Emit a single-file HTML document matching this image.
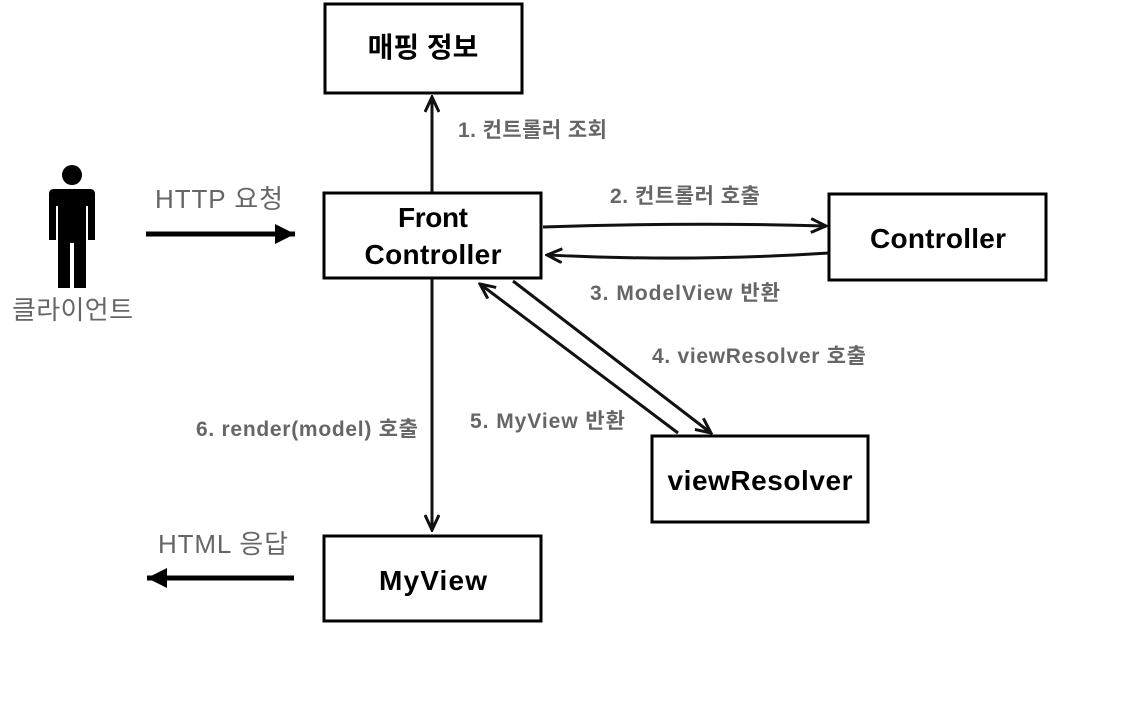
<!DOCTYPE html>
<html><head><meta charset="utf-8"><style>
body{margin:0;background:#fff;width:1144px;height:706px;overflow:hidden}
text{font-family:"Liberation Sans","Noto Sans CJK KR",sans-serif}
.b{font-weight:bold;font-size:28px;fill:#000}
.l{font-weight:bold;font-size:21px;fill:#666}
.g{font-size:26px;fill:#666}
</style></head><body>
<svg width="1144" height="706" xmlns="http://www.w3.org/2000/svg">
<defs>
<marker id="a" markerWidth="18" markerHeight="16" refX="16" refY="8" orient="auto" markerUnits="userSpaceOnUse">
<path d="M1,1 L16,8 L1,15" fill="none" stroke="#111" stroke-width="3"/></marker>
<marker id="f" markerWidth="20" markerHeight="20" refX="20" refY="10" orient="auto" markerUnits="userSpaceOnUse">
<path d="M0,0 L20,10 L0,20Z" fill="#000"/></marker>
</defs>
<g fill="none" stroke="#000" stroke-width="3">
<rect x="325" y="4" width="197" height="89"/>
<rect x="324" y="193" width="217" height="85"/>
<rect x="829" y="194" width="217" height="86"/>
<rect x="652" y="436" width="216" height="86"/>
<rect x="324" y="536" width="217" height="85"/>
</g>
<g fill="none" stroke="#111" stroke-width="3">
<line x1="432" y1="192" x2="432" y2="97" marker-end="url(#a)"/>
<line x1="432" y1="279" x2="432" y2="530" marker-end="url(#a)"/>
<path d="M543,227 Q690,222 826,226" marker-end="url(#a)"/>
<path d="M829,253 Q690,262 547,255" marker-end="url(#a)"/>
<line x1="513" y1="281" x2="711" y2="433" marker-end="url(#a)"/>
<line x1="678" y1="433" x2="480" y2="284" marker-end="url(#a)"/>
</g>
<line x1="146" y1="234" x2="295" y2="234" stroke="#000" stroke-width="5" marker-end="url(#f)"/>
<line x1="294" y1="578" x2="147" y2="578" stroke="#000" stroke-width="5" marker-end="url(#f)"/>
<circle cx="72" cy="175" r="10" fill="#000"/>
<path d="M54,189 H90 Q95,189 95,194 V240 H88 V206 H86 V288 H74 V243 H70 V288 H58 V206 H56 V240 H49 V194 Q49,189 54,189Z" fill="#000"/>
<text class="b" x="423" y="57" text-anchor="middle">매핑 정보</text>
<text class="b" x="433" y="227" text-anchor="middle" textLength="70">Front</text>
<text class="b" x="433" y="264" text-anchor="middle" textLength="137">Controller</text>
<text class="b" x="938" y="248" text-anchor="middle" textLength="136">Controller</text>
<text class="b" x="760" y="490" text-anchor="middle" textLength="185">viewResolver</text>
<text class="b" x="433" y="590" text-anchor="middle" textLength="108">MyView</text>
<text class="l" x="458" y="137" textLength="149">1. 컨트롤러 조회</text>
<text class="l" x="610" y="203" textLength="150">2. 컨트롤러 호출</text>
<text class="l" x="590" y="300" textLength="190">3. ModelView 반환</text>
<text class="l" x="652" y="363" textLength="214">4. viewResolver 호출</text>
<text class="l" x="470" y="428" textLength="155">5. MyView 반환</text>
<text class="l" x="196" y="436" textLength="222">6. render(model) 호출</text>
<text class="g" x="155" y="208" textLength="128">HTTP 요청</text>
<text class="g" x="158" y="553" textLength="130">HTML 응답</text>
<text class="g" x="12" y="319" textLength="121">클라이언트</text>
</svg>
</body></html>
